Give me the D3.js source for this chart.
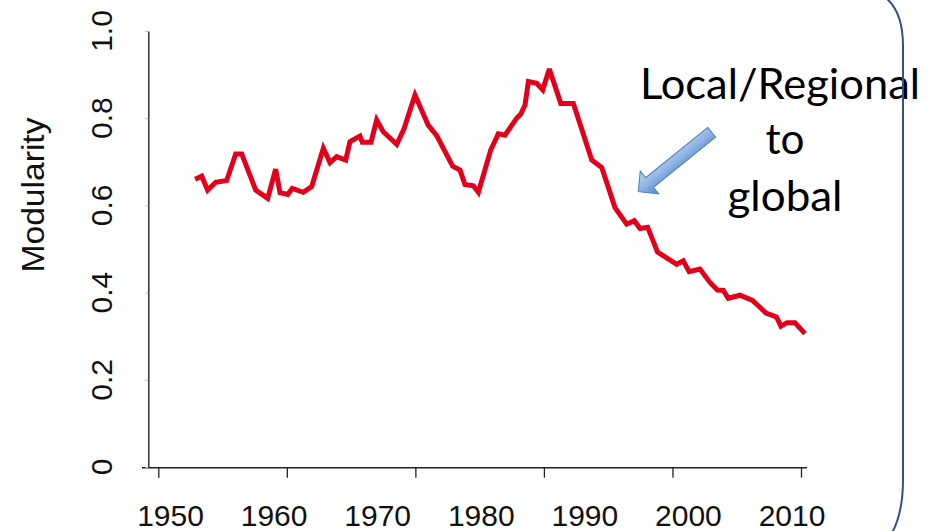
<!DOCTYPE html>
<html>
<head>
<meta charset="utf-8">
<script src="https://cdn.jsdelivr.net/npm/d3@7"></script>
<style>
  body { margin: 0; background: #fff; }
  svg { display: block; }
</style>
</head>
<body>
<svg id="chart" width="941" height="531"></svg>
<script>
// values (year, modularity)
const years = [
  1962.86, 1963.38, 1963.84, 1964.47, 1965.32, 1966.02, 1966.49, 1967.58, 1968.51, 1969.13,
  1969.47, 1970.07, 1970.42, 1971.28, 1971.93, 1972.84, 1973.36, 1973.88, 1974.58, 1974.91,
  1975.69, 1975.87, 1976.55, 1976.99, 1977.50, 1978.55, 1979.11, 1979.97, 1981.00, 1981.66,
  1982.90, 1983.47, 1983.86, 1984.51, 1984.90, 1985.86, 1986.45, 1986.97, 1987.88, 1988.19,
  1988.53, 1988.79, 1989.44, 1989.91, 1990.42, 1991.31, 1992.29, 1993.72, 1994.50, 1995.53,
  1996.44, 1997.03, 1997.48, 1998.07, 1998.84, 2000.33, 2000.84, 2001.30, 2002.14, 2002.90,
  2003.50, 2003.96, 2004.34, 2005.25, 2006.23, 2007.28, 2008.09, 2008.44, 2008.91, 2009.53,
  2010.31
];
const modularity = [
  0.660, 0.667, 0.635, 0.653, 0.657, 0.718, 0.718, 0.635, 0.616, 0.683,
  0.629, 0.625, 0.639, 0.630, 0.643, 0.731, 0.698, 0.712, 0.704, 0.746,
  0.759, 0.745, 0.745, 0.796, 0.769, 0.740, 0.775, 0.853, 0.784, 0.760,
  0.690, 0.681, 0.648, 0.645, 0.630, 0.727, 0.764, 0.761, 0.800, 0.809,
  0.830, 0.884, 0.880, 0.865, 0.913, 0.834, 0.834, 0.704, 0.687, 0.595,
  0.557, 0.565, 0.547, 0.550, 0.493, 0.465, 0.473, 0.448, 0.454, 0.424,
  0.406, 0.405, 0.387, 0.394, 0.382, 0.353, 0.344, 0.323, 0.331, 0.331,
  0.306
];

const yTicks = [0, 0.2, 0.4, 0.6, 0.8, 1.0];
const yTickLabels = ["0", "0.2", "0.4", "0.6", "0.8", "1.0"];
const xTicks = [1960, 1970, 1980, 1990, 2000, 2010];
const xLabels = ["1950", "1960", "1970", "1980", "1990", "2000", "2010"];
const yTitle = "Modularity";
const noteLines = ["Local/Regional", "to", "global"];

const svg = d3.select("#chart");

const x = d3.scaleLinear().domain([1960, 2010]).range([158.3, 801]);
const y = d3.scaleLinear().domain([0, 1]).range([467, 31]);
const xLab = d3.scalePoint().domain(xLabels).range([170.5, 792]);

const axisColor = "#222";

// bottom axis: plain line across the plot plus ticks
svg.append("line")
  .attr("x1", 142).attr("x2", 807)
  .attr("y1", y(0) + 0.7).attr("y2", y(0) + 0.7)
  .attr("stroke", axisColor).attr("stroke-width", 1.4);

const gx = svg.append("g")
  .attr("transform", `translate(0,${y(0) + 0.7})`)
  .call(d3.axisBottom(x).tickValues(xTicks).tickFormat("").tickSize(10));
gx.select(".domain").remove();
gx.selectAll(".tick line").attr("stroke", axisColor).attr("stroke-width", 1.3);

svg.append("g").selectAll("text")
  .data(xLabels)
  .join("text")
  .attr("x", d => xLab(d))
  .attr("y", 525.5)
  .attr("text-anchor", "middle")
  .attr("font-family", "'Liberation Sans', Arial, sans-serif")
  .attr("font-size", 30)
  .attr("fill", "#111")
  .text(d => d);

// left axis
const gy = svg.append("g")
  .attr("transform", "translate(148.3,0)")
  .call(d3.axisLeft(y).tickValues(yTicks).tickFormat("").tickSize(3).tickSizeOuter(0));
gy.select(".domain").attr("stroke", axisColor).attr("stroke-width", 1.4);
gy.selectAll(".tick line").attr("stroke", "#bbb").attr("stroke-width", 1);

svg.append("g").selectAll("text")
  .data(yTicks)
  .join("text")
  .attr("transform", d => `translate(112,${y(d)}) rotate(-90)`)
  .attr("text-anchor", "middle")
  .attr("font-family", "'Liberation Sans', Arial, sans-serif")
  .attr("font-size", 30)
  .attr("fill", "#111")
  .text((d, i) => yTickLabels[i]);

svg.append("text")
  .attr("transform", "translate(44,195) rotate(-90)")
  .attr("text-anchor", "middle")
  .attr("font-family", "'Liberation Sans', Arial, sans-serif")
  .attr("font-size", 32)
  .attr("fill", "#111")
  .attr("textLength", 155)
  .attr("lengthAdjust", "spacingAndGlyphs")
  .text(yTitle);

// the series
const line = d3.line()
  .x((d, i) => x(years[i]))
  .y(d => y(d));

svg.append("path")
  .datum(modularity)
  .attr("d", line)
  .attr("fill", "none")
  .attr("stroke", "#e2001a")
  .attr("stroke-width", 5)
  .attr("stroke-linejoin", "miter")
  .attr("stroke-miterlimit", 3);

// blue block arrow
const defs = svg.append("defs");
const grad = defs.append("linearGradient")
  .attr("id", "arrowFill")
  .attr("gradientUnits", "userSpaceOnUse")
  .attr("x1", 0).attr("y1", 15).attr("x2", 0).attr("y2", -15);
grad.append("stop").attr("offset", 0).attr("stop-color", "#c2d7f2");
grad.append("stop").attr("offset", 0.5).attr("stop-color", "#8fb3e3");
grad.append("stop").attr("offset", 1).attr("stop-color", "#4f86cf");

const arrowLen = 94.5, shaftHalf = 6.25, headHalf = 14.7, headLen = 14.5;
svg.append("g")
  .attr("transform", "translate(711.7,132.2) rotate(141)")
  .append("path")
  .attr("d", d3.line()([
    [0, -shaftHalf], [arrowLen - headLen, -shaftHalf], [arrowLen - headLen, -headHalf],
    [arrowLen, 0], [arrowLen - headLen, headHalf], [arrowLen - headLen, shaftHalf], [0, shaftHalf]
  ]) + "Z")
  .attr("fill", "url(#arrowFill)")
  .attr("stroke", "#4a7ebb")
  .attr("stroke-width", 1);

// annotation text
const noteX = [780, 785, 785];
const noteY = [98.5, 154, 211];
const noteW = [280, 39, 115];
svg.append("g").selectAll("text")
  .data(noteLines)
  .join("text")
  .attr("x", (d, i) => noteX[i])
  .attr("y", (d, i) => noteY[i])
  .attr("text-anchor", "middle")
  .attr("font-family", "Lato, 'Open Sans', sans-serif")
  .attr("font-size", 43)
  .attr("textLength", (d, i) => noteW[i])
  .attr("lengthAdjust", "spacingAndGlyphs")
  .attr("fill", "#000")
  .text(d => d);

// right-hand bracket (edge of a rounded box)
svg.append("path")
  .attr("d", "M886,-2 C898,8 903,24 903,46 L903,480 C903,502 900,518 892,533")
  .attr("fill", "none")
  .attr("stroke", "#2f528f")
  .attr("stroke-width", 2);
</script>
</body>
</html>
